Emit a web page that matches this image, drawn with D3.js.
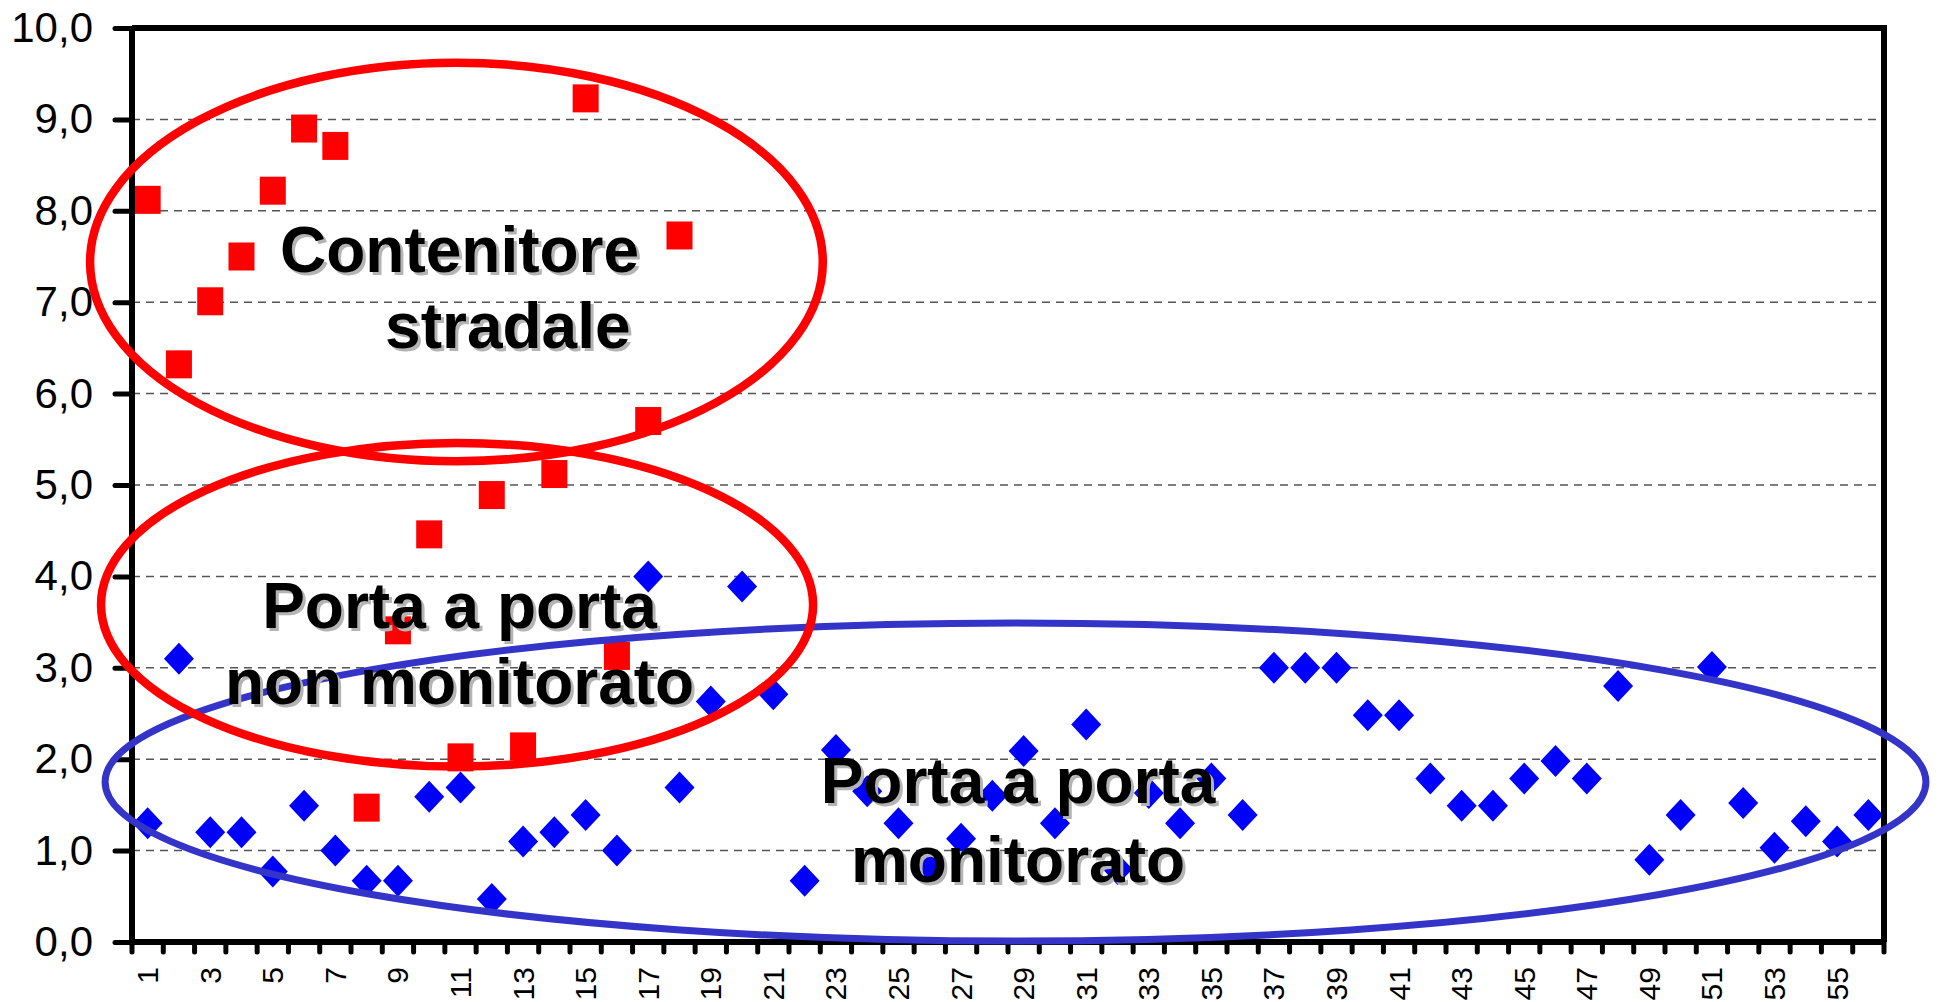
<!DOCTYPE html>
<html>
<head>
<meta charset="utf-8">
<script src="https://cdn.jsdelivr.net/npm/d3@7"></script>
<style>
  body { margin: 0; background: #fff; }
  svg { display: block; font-family: "Liberation Sans", Arial, sans-serif; }
</style>
</head>
<body>
<div id="chart"></div>
<script>
// categories 1..56 on the x axis
var categories = [1, 2, 3, 4, 5, 6, 7, 8, 9, 10, 11, 12, 13, 14, 15, 16, 17, 18, 19, 20,
  21, 22, 23, 24, 25, 26, 27, 28, 29, 30, 31, 32, 33, 34, 35, 36, 37, 38, 39, 40,
  41, 42, 43, 44, 45, 46, 47, 48, 49, 50, 51, 52, 53, 54, 55, 56];

// red squares (categories 1..18)
var redValues = [8.12, 6.32, 7.01, 7.50, 8.22, 8.90, 8.71, 1.47, 3.41, 4.46,
  2.02, 4.89, 2.14, 5.12, 9.23, 3.13, 5.70, 7.73];

// blue diamonds (categories 1..56)
var blueValues = [1.30, 3.10, 1.20, 1.20, 0.77, 1.49, 1.00, 0.67, 0.67, 1.59,
  1.69, 0.47, 1.10, 1.20, 1.39, 1.00, 4.00, 1.69, 2.63, 3.89,
  2.71, 0.67, 2.10, 1.65, 1.30, 0.80, 1.13, 1.60, 2.09, 1.30,
  2.38, 0.80, 1.63, 1.30, 1.79, 1.39, 3.00, 3.00, 3.00, 2.48,
  2.48, 1.79, 1.49, 1.49, 1.79, 1.98, 1.79, 2.80, 0.90, 1.39,
  3.01, 1.52, 1.03, 1.32, 1.10, 1.39];

// y axis ticks
var yTicks = [0, 1, 2, 3, 4, 5, 6, 7, 8, 9, 10];

// x labels shown (odd categories only)
var xLabels = categories.filter(function(c) { return c % 2 === 1; });

var svgWidth = 1939;
var svgHeight = 1002;
var plot = { left: 132, right: 1884, top: 28, bottom: 942 };

var svg = d3.select("#chart").append("svg")
  .attr("width", svgWidth)
  .attr("height", svgHeight);

var xBand = d3.scaleBand().domain(categories).range([plot.left, plot.right]);
// continuous x in "category" units for the annotations
var xLin = d3.scaleLinear().domain([0.5, 56.5]).range([plot.left, plot.right]);
var y = d3.scaleLinear().domain([0, 10]).range([plot.bottom, plot.top]);
var cx = function(c) { return xBand(c) + xBand.bandwidth() / 2; };

// gridlines
svg.append("g").selectAll("line")
  .data(yTicks.filter(function(t) { return t > 0 && t < 10; }))
  .enter().append("line")
  .attr("x1", plot.left).attr("x2", plot.right - 8)
  .attr("y1", function(d) { return y(d); })
  .attr("y2", function(d) { return y(d); })
  .attr("stroke", "#555")
  .attr("stroke-width", 1.5)
  .attr("stroke-dasharray", "8,6");

// blue diamonds
var dw = 15, dh = 16;
svg.append("g").selectAll("path")
  .data(blueValues)
  .enter().append("path")
  .attr("d", function(d, i) {
    var px = cx(categories[i]), py = y(d);
    return "M" + px + "," + (py - dh) + "L" + (px + dw) + "," + py +
      "L" + px + "," + (py + dh) + "L" + (px - dw) + "," + py + "Z";
  })
  .attr("fill", "#0000ff");

// red squares
var sw = 26, sh = 28;
svg.append("g").selectAll("rect")
  .data(redValues)
  .enter().append("rect")
  .attr("x", function(d, i) { return cx(categories[i]) - sw / 2; })
  .attr("y", function(d) { return y(d) - sh / 2; })
  .attr("width", sw)
  .attr("height", sh)
  .attr("fill", "#ff0000");

// frame (top, right)
svg.append("path")
  .attr("d", "M" + plot.left + "," + plot.top + "H" + plot.right + "V" + plot.bottom)
  .attr("fill", "none")
  .attr("stroke", "#000")
  .attr("stroke-width", 6);

// y axis
var yAxis = d3.axisLeft(y)
  .tickValues(yTicks)
  .tickSize(17)
  .tickPadding(22)
  .tickFormat(function(d) { return d3.format(".1f")(d).replace(".", ","); });

var gy = svg.append("g")
  .attr("transform", "translate(" + plot.left + ",0)")
  .call(yAxis);
gy.select(".domain").remove();
gy.selectAll(".tick line").attr("stroke", "#000").attr("stroke-width", 5).attr("stroke-linecap", "round");
gy.selectAll(".tick text")
  .attr("font-size", 42)
  .attr("font-family", "'Liberation Sans', Arial, sans-serif")
  .attr("fill", "#000");

// x axis
var xAxis = d3.axisBottom(xBand).tickSize(0).tickFormat("");
var gx = svg.append("g")
  .attr("transform", "translate(0," + plot.bottom + ")")
  .call(xAxis);
gx.select(".domain").remove();

// x ticks between categories
svg.append("g").selectAll("line")
  .data(d3.range(0, categories.length + 1))
  .enter().append("line")
  .attr("x1", function(i) { return xLin(i + 0.5); })
  .attr("x2", function(i) { return xLin(i + 0.5); })
  .attr("y1", plot.bottom)
  .attr("y2", plot.bottom + 10)
  .attr("stroke", "#000")
  .attr("stroke-width", 5)
  .attr("stroke-linecap", "round");

// x labels, rotated
svg.append("g").selectAll("text")
  .data(xLabels)
  .enter().append("text")
  .attr("transform", function(d) { return "translate(" + cx(d) + "," + (plot.bottom + 25) + ") rotate(-90)"; })
  .attr("text-anchor", "end")
  .attr("dy", "0.35em")
  .attr("font-size", 30)
  .attr("fill", "#000")
  .text(function(d) { return d; });

// axis lines
svg.append("line")
  .attr("x1", plot.left).attr("x2", plot.left)
  .attr("y1", plot.top).attr("y2", plot.bottom)
  .attr("stroke", "#000").attr("stroke-width", 6);
svg.append("line")
  .attr("x1", plot.left).attr("x2", plot.right)
  .attr("y1", plot.bottom).attr("y2", plot.bottom)
  .attr("stroke", "#000").attr("stroke-width", 6);

// annotation ellipses (in category / value units)
var ellipses = [
  { cx: 28.74, cy: 1.75, rx: 29.1, ry: 1.74, color: "#3434c8", width: 7 },
  { cx: 10.87, cy: 7.44, rx: 11.71, ry: 2.18, color: "#ff0000", width: 8.5 },
  { cx: 10.89, cy: 3.69, rx: 11.38, ry: 1.77, color: "#ff0000", width: 8.5 }
];
svg.append("g").selectAll("ellipse")
  .data(ellipses)
  .enter().append("ellipse")
  .attr("cx", function(d) { return xLin(d.cx); })
  .attr("cy", function(d) { return y(d.cy); })
  .attr("rx", function(d) { return xLin(d.cx + d.rx) - xLin(d.cx); })
  .attr("ry", function(d) { return y(d.cy - d.ry) - y(d.cy); })
  .attr("fill", "none")
  .attr("stroke", function(d) { return d.color; })
  .attr("stroke-width", function(d) { return d.width; });

// annotation labels
var labels = [
  { text: "Contenitore", x: 5.23, y: 7.33, anchor: "start" },
  { text: "stradale", x: 8.59, y: 6.50, anchor: "start" },
  { text: "Porta a porta", x: 10.97, y: 3.435, anchor: "middle" },
  { text: "non monitorato", x: 10.97, y: 2.60, anchor: "middle" },
  { text: "Porta a porta", x: 28.82, y: 1.52, anchor: "middle" },
  { text: "monitorato", x: 28.82, y: 0.656, anchor: "middle" }
];
var lg = svg.append("g")
  .attr("font-size", 64)
  .attr("font-weight", "bold");
// shadow
lg.selectAll("text.shadow")
  .data(labels)
  .enter().append("text")
  .attr("class", "shadow")
  .attr("x", function(d) { return xLin(d.x) + 3; })
  .attr("y", function(d) { return y(d.y) + 3; })
  .attr("text-anchor", function(d) { return d.anchor; })
  .attr("fill", "#b4b4b4")
  .text(function(d) { return d.text; });
lg.selectAll("text.main")
  .data(labels)
  .enter().append("text")
  .attr("class", "main")
  .attr("x", function(d) { return xLin(d.x); })
  .attr("y", function(d) { return y(d.y); })
  .attr("text-anchor", function(d) { return d.anchor; })
  .attr("fill", "#000")
  .text(function(d) { return d.text; });
</script>
</body>
</html>
